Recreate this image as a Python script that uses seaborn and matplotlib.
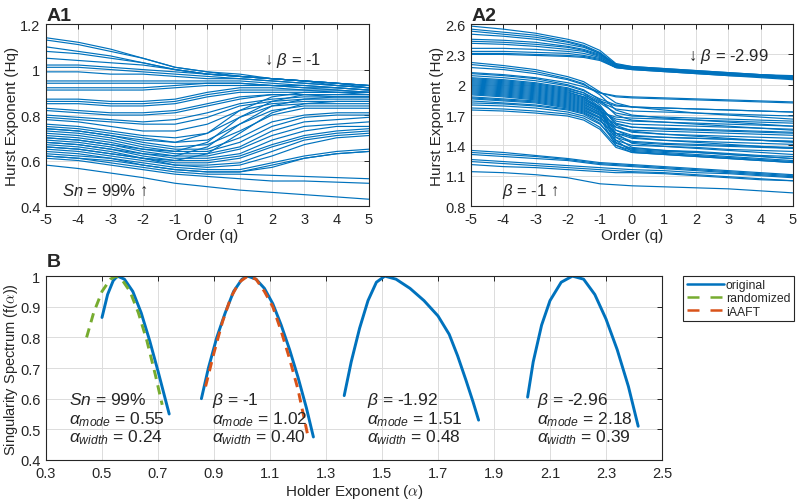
import matplotlib
matplotlib.use("Agg")
import matplotlib.pyplot as plt
from matplotlib.lines import Line2D
from matplotlib.ticker import FuncFormatter
import pandas as pd
import seaborn as sns

# ---- data ----
q_a1 = [-5, -4, -3, -2, -1, 0, 1, 2, 3, 4, 5]
a1_upper = [
    [1.14, 1.12, 1.09, 1.05, 1.01, 0.99, 0.97, 0.96, 0.95, 0.94, 0.93],
    [1.13, 1.11, 1.08, 1.05, 1.01, 0.99, 0.98, 0.96, 0.95, 0.94, 0.93],
    [1.10, 1.08, 1.06, 1.03, 1.00, 0.98, 0.97, 0.96, 0.95, 0.94, 0.93],
    [1.08, 1.07, 1.05, 1.03, 1.00, 0.98, 0.97, 0.96, 0.95, 0.94, 0.93],
    [1.05, 1.04, 1.03, 1.02, 1.00, 0.98, 0.97, 0.96, 0.95, 0.94, 0.92],
    [1.02, 1.02, 1.01, 1.00, 0.99, 0.98, 0.97, 0.96, 0.95, 0.93, 0.92],
    [1.01, 1.01, 1.00, 0.99, 0.98, 0.97, 0.96, 0.95, 0.94, 0.93, 0.92],
    [0.99, 0.99, 0.98, 0.98, 0.97, 0.96, 0.96, 0.95, 0.94, 0.93, 0.92],
    [0.95, 0.95, 0.95, 0.95, 0.95, 0.95, 0.95, 0.94, 0.93, 0.92, 0.91],
    [0.94, 0.94, 0.94, 0.94, 0.94, 0.94, 0.94, 0.93, 0.93, 0.92, 0.91],
    [0.92, 0.92, 0.92, 0.92, 0.93, 0.94, 0.94, 0.93, 0.92, 0.92, 0.91],
    [0.91, 0.91, 0.91, 0.91, 0.92, 0.93, 0.93, 0.93, 0.92, 0.91, 0.90],
]
a1_middle = [
    [0.87, 0.87, 0.86, 0.86, 0.87, 0.90, 0.92, 0.92, 0.91, 0.91, 0.90],
    [0.86, 0.86, 0.85, 0.85, 0.86, 0.89, 0.91, 0.91, 0.91, 0.90, 0.90],
    [0.85, 0.85, 0.84, 0.84, 0.85, 0.88, 0.90, 0.90, 0.90, 0.90, 0.89],
    [0.83, 0.82, 0.81, 0.81, 0.82, 0.85, 0.88, 0.89, 0.89, 0.89, 0.89],
    [0.82, 0.81, 0.80, 0.80, 0.81, 0.84, 0.87, 0.89, 0.89, 0.88, 0.88],
    [0.80, 0.79, 0.78, 0.77, 0.78, 0.81, 0.85, 0.87, 0.88, 0.88, 0.88],
    [0.79, 0.78, 0.77, 0.76, 0.76, 0.79, 0.84, 0.86, 0.87, 0.87, 0.87],
    [0.78, 0.77, 0.75, 0.73, 0.73, 0.76, 0.82, 0.85, 0.86, 0.86, 0.86],
    [0.76, 0.75, 0.73, 0.71, 0.70, 0.72, 0.79, 0.84, 0.85, 0.85, 0.85],
    [0.75, 0.74, 0.72, 0.70, 0.68, 0.69, 0.76, 0.82, 0.84, 0.84, 0.84],
    [0.74, 0.73, 0.71, 0.68, 0.66, 0.67, 0.73, 0.80, 0.83, 0.83, 0.83],
    [0.74, 0.73, 0.71, 0.69, 0.68, 0.72, 0.82, 0.88, 0.90, 0.90, 0.90],
    [0.73, 0.72, 0.70, 0.67, 0.65, 0.65, 0.70, 0.77, 0.80, 0.81, 0.81],
    [0.72, 0.71, 0.69, 0.66, 0.64, 0.64, 0.68, 0.75, 0.79, 0.80, 0.80],
    [0.71, 0.70, 0.68, 0.65, 0.63, 0.63, 0.66, 0.73, 0.77, 0.78, 0.79],
    [0.70, 0.69, 0.67, 0.65, 0.64, 0.68, 0.79, 0.86, 0.89, 0.89, 0.89],
    [0.70, 0.69, 0.67, 0.64, 0.62, 0.62, 0.65, 0.71, 0.75, 0.76, 0.77],
    [0.69, 0.68, 0.66, 0.63, 0.61, 0.61, 0.63, 0.69, 0.73, 0.75, 0.75],
    [0.68, 0.67, 0.65, 0.63, 0.62, 0.66, 0.76, 0.84, 0.87, 0.88, 0.88],
    [0.68, 0.67, 0.65, 0.62, 0.60, 0.60, 0.62, 0.67, 0.71, 0.73, 0.74],
    [0.67, 0.66, 0.64, 0.61, 0.59, 0.59, 0.61, 0.66, 0.70, 0.72, 0.73],
    [0.66, 0.65, 0.63, 0.61, 0.60, 0.63, 0.72, 0.81, 0.85, 0.86, 0.86],
    [0.66, 0.65, 0.63, 0.61, 0.58, 0.58, 0.59, 0.64, 0.69, 0.71, 0.72],
    [0.65, 0.64, 0.62, 0.60, 0.58, 0.57, 0.58, 0.62, 0.67, 0.70, 0.71],
]
a1_lower = [
    [0.64, 0.63, 0.61, 0.59, 0.57, 0.56, 0.56, 0.59, 0.62, 0.64, 0.65],
    [0.63, 0.62, 0.61, 0.58, 0.56, 0.55, 0.55, 0.58, 0.61, 0.63, 0.64],
    [0.62, 0.61, 0.60, 0.58, 0.56, 0.55, 0.55, 0.57, 0.61, 0.63, 0.64],
    [0.62, 0.61, 0.59, 0.57, 0.55, 0.54, 0.54, 0.535, 0.53, 0.525, 0.52],
    [0.61, 0.60, 0.58, 0.56, 0.54, 0.53, 0.52, 0.51, 0.51, 0.505, 0.50],
    [0.58, 0.565, 0.545, 0.525, 0.50, 0.485, 0.47, 0.46, 0.45, 0.44, 0.43],
]

q_a2 = [-5, -4, -3, -2, -1.5, -1, -0.5, 0, 1, 2, 3, 4, 5]
a2_upper = [
    [2.58, 2.55, 2.51, 2.45, 2.41, 2.34, 2.21, 2.18, 2.16, 2.14, 2.12, 2.10, 2.09],
    [2.55, 2.52, 2.49, 2.43, 2.39, 2.32, 2.20, 2.18, 2.16, 2.14, 2.12, 2.10, 2.08],
    [2.53, 2.50, 2.47, 2.42, 2.38, 2.31, 2.20, 2.17, 2.15, 2.13, 2.11, 2.10, 2.08],
    [2.50, 2.48, 2.45, 2.40, 2.37, 2.31, 2.19, 2.17, 2.15, 2.13, 2.11, 2.09, 2.08],
    [2.45, 2.44, 2.42, 2.38, 2.35, 2.30, 2.19, 2.17, 2.15, 2.13, 2.11, 2.09, 2.07],
    [2.43, 2.42, 2.40, 2.37, 2.34, 2.29, 2.19, 2.17, 2.15, 2.13, 2.11, 2.09, 2.07],
    [2.41, 2.40, 2.38, 2.35, 2.33, 2.28, 2.18, 2.16, 2.14, 2.12, 2.10, 2.08, 2.07],
    [2.36, 2.36, 2.35, 2.33, 2.31, 2.27, 2.18, 2.16, 2.14, 2.12, 2.10, 2.08, 2.06],
    [2.33, 2.33, 2.32, 2.31, 2.29, 2.26, 2.17, 2.16, 2.14, 2.12, 2.10, 2.08, 2.06],
    [2.31, 2.31, 2.30, 2.29, 2.28, 2.25, 2.17, 2.15, 2.13, 2.11, 2.09, 2.08, 2.06],
    [2.30, 2.30, 2.29, 2.28, 2.27, 2.24, 2.17, 2.15, 2.13, 2.11, 2.09, 2.07, 2.05],
]
a2_middle = [
    [2.22, 2.19, 2.15, 2.08, 2.03, 1.93, 1.82, 1.78, 1.75, 1.72, 1.70, 1.68, 1.66],
    [2.20, 2.17, 2.13, 2.06, 2.01, 1.90, 1.75, 1.70, 1.67, 1.65, 1.63, 1.61, 1.59],
    [2.17, 2.15, 2.11, 2.05, 2.00, 1.92, 1.88, 1.87, 1.86, 1.85, 1.84, 1.83, 1.82],
    [2.12, 2.10, 2.07, 2.02, 1.98, 1.92, 1.89, 1.88, 1.87, 1.86, 1.85, 1.84, 1.83],
    [2.11, 2.09, 2.06, 2.00, 1.95, 1.85, 1.70, 1.65, 1.63, 1.61, 1.59, 1.57, 1.55],
    [2.09, 2.07, 2.04, 1.99, 1.94, 1.86, 1.80, 1.78, 1.77, 1.76, 1.75, 1.74, 1.73],
    [2.07, 2.05, 2.02, 1.97, 1.92, 1.80, 1.60, 1.54, 1.51, 1.49, 1.47, 1.45, 1.43],
    [2.06, 2.04, 2.01, 1.96, 1.92, 1.84, 1.79, 1.78, 1.77, 1.76, 1.75, 1.74, 1.73],
    [2.05, 2.03, 2.00, 1.95, 1.90, 1.78, 1.55, 1.48, 1.45, 1.43, 1.41, 1.39, 1.37],
    [2.04, 2.02, 1.99, 1.94, 1.90, 1.83, 1.76, 1.74, 1.73, 1.72, 1.71, 1.70, 1.69],
    [2.03, 2.01, 1.98, 1.93, 1.88, 1.76, 1.52, 1.42, 1.39, 1.37, 1.35, 1.33, 1.31],
    [2.02, 2.00, 1.97, 1.92, 1.88, 1.82, 1.72, 1.69, 1.68, 1.67, 1.66, 1.65, 1.64],
    [2.01, 1.99, 1.96, 1.91, 1.87, 1.78, 1.62, 1.58, 1.56, 1.55, 1.54, 1.53, 1.52],
    [2.00, 1.98, 1.95, 1.90, 1.86, 1.76, 1.48, 1.38, 1.35, 1.33, 1.31, 1.29, 1.27],
    [1.99, 1.97, 1.94, 1.89, 1.85, 1.77, 1.64, 1.61, 1.60, 1.59, 1.58, 1.57, 1.56],
    [1.98, 1.96, 1.93, 1.88, 1.84, 1.75, 1.45, 1.34, 1.32, 1.30, 1.28, 1.26, 1.24],
    [1.97, 1.95, 1.92, 1.87, 1.83, 1.75, 1.58, 1.53, 1.51, 1.50, 1.49, 1.48, 1.47],
    [1.96, 1.94, 1.91, 1.86, 1.82, 1.74, 1.66, 1.64, 1.63, 1.62, 1.61, 1.60, 1.59],
    [1.95, 1.93, 1.90, 1.85, 1.81, 1.72, 1.50, 1.44, 1.42, 1.41, 1.40, 1.39, 1.38],
    [1.94, 1.92, 1.89, 1.84, 1.80, 1.73, 1.68, 1.67, 1.66, 1.65, 1.64, 1.63, 1.62],
    [1.93, 1.91, 1.88, 1.83, 1.79, 1.71, 1.55, 1.50, 1.48, 1.47, 1.46, 1.45, 1.44],
    [1.92, 1.90, 1.87, 1.82, 1.78, 1.70, 1.43, 1.36, 1.34, 1.33, 1.31, 1.29, 1.27],
    [1.91, 1.89, 1.86, 1.81, 1.77, 1.70, 1.61, 1.58, 1.57, 1.56, 1.55, 1.54, 1.53],
    [1.90, 1.88, 1.85, 1.80, 1.76, 1.68, 1.52, 1.47, 1.45, 1.44, 1.43, 1.42, 1.41],
    [1.88, 1.86, 1.84, 1.79, 1.75, 1.67, 1.40, 1.33, 1.31, 1.29, 1.27, 1.25, 1.23],
    [1.87, 1.85, 1.83, 1.78, 1.74, 1.67, 1.58, 1.55, 1.54, 1.53, 1.52, 1.51, 1.50],
    [1.86, 1.84, 1.82, 1.77, 1.73, 1.65, 1.48, 1.43, 1.41, 1.40, 1.39, 1.38, 1.37],
    [1.84, 1.82, 1.80, 1.76, 1.72, 1.64, 1.52, 1.49, 1.48, 1.47, 1.46, 1.45, 1.44],
    [1.82, 1.81, 1.79, 1.75, 1.71, 1.62, 1.42, 1.37, 1.35, 1.34, 1.32, 1.30, 1.29],
    [1.80, 1.79, 1.77, 1.73, 1.69, 1.61, 1.45, 1.40, 1.39, 1.38, 1.36, 1.35, 1.34],
    [1.77, 1.76, 1.74, 1.71, 1.67, 1.58, 1.40, 1.35, 1.33, 1.31, 1.29, 1.27, 1.25],
    [1.75, 1.74, 1.72, 1.69, 1.65, 1.56, 1.38, 1.33, 1.31, 1.29, 1.27, 1.25, 1.23],
]
a2_lower = [
    [1.35, 1.33, 1.30, 1.27, 1.25, 1.23, 1.22, 1.21, 1.19, 1.17, 1.15, 1.13, 1.11],
    [1.33, 1.31, 1.29, 1.26, 1.24, 1.22, 1.21, 1.20, 1.18, 1.16, 1.14, 1.12, 1.10],
    [1.31, 1.29, 1.27, 1.25, 1.23, 1.21, 1.20, 1.19, 1.17, 1.15, 1.13, 1.11, 1.09],
    [1.26, 1.24, 1.22, 1.20, 1.19, 1.18, 1.17, 1.16, 1.15, 1.13, 1.12, 1.10, 1.08],
    [1.24, 1.22, 1.20, 1.18, 1.17, 1.16, 1.15, 1.14, 1.13, 1.11, 1.09, 1.07, 1.05],
    [1.21, 1.19, 1.18, 1.16, 1.15, 1.14, 1.13, 1.13, 1.12, 1.10, 1.08, 1.06, 1.05],
    [1.14, 1.13, 1.11, 1.08, 1.05, 1.02, 1.01, 1.00, 0.99, 0.98, 0.97, 0.95, 0.93],
]

# singularity spectra (alpha, f(alpha))
orig1_a = [0.50, 0.52, 0.54, 0.555, 0.58, 0.61, 0.64, 0.67, 0.70, 0.72, 0.74]
orig1_f = [0.865, 0.94, 0.985, 1.0, 0.99, 0.95, 0.88, 0.79, 0.69, 0.62, 0.55]
rand_a = [0.445, 0.47, 0.50, 0.53, 0.55, 0.57, 0.60, 0.63, 0.66, 0.69, 0.715]
rand_f = [0.80, 0.88, 0.95, 0.99, 1.0, 0.99, 0.95, 0.88, 0.79, 0.68, 0.58]
orig2_a = [0.855, 0.88, 0.91, 0.94, 0.97, 1.00, 1.02, 1.05, 1.08, 1.11, 1.14, 1.17, 1.20, 1.23, 1.255]
orig2_f = [0.60, 0.70, 0.80, 0.88, 0.95, 0.99, 1.0, 0.99, 0.96, 0.91, 0.84, 0.76, 0.67, 0.57, 0.475]
iaaft_a = [0.87, 0.90, 0.93, 0.96, 0.99, 1.02, 1.05, 1.08, 1.11, 1.14, 1.17, 1.20, 1.235]
iaaft_f = [0.64, 0.75, 0.85, 0.93, 0.98, 1.0, 0.99, 0.95, 0.90, 0.82, 0.73, 0.63, 0.48]
orig3_a = [1.365, 1.39, 1.42, 1.45, 1.48, 1.51, 1.55, 1.60, 1.65, 1.70, 1.74, 1.77, 1.80, 1.825, 1.845]
orig3_f = [0.61, 0.72, 0.83, 0.92, 0.98, 1.0, 0.99, 0.96, 0.92, 0.87, 0.81, 0.74, 0.66, 0.59, 0.53]
orig4_a = [2.02, 2.04, 2.07, 2.10, 2.14, 2.18, 2.22, 2.26, 2.30, 2.34, 2.38, 2.415]
orig4_f = [0.605, 0.72, 0.84, 0.92, 0.98, 1.0, 0.99, 0.94, 0.86, 0.76, 0.64, 0.51]

b_labels = [
    (r"$Sn$ = 99%", 0.55, 0.24, 0.382),
    (r"$\beta$ = -1", 1.02, 0.40, 0.893),
    (r"$\beta$ = -1.92", 1.51, 0.48, 1.446),
    (r"$\beta$ = -2.96", 2.18, 0.39, 2.054),
]

BLUE = "#0072BD"
GREEN = "#77AC30"
RED = "#D95319"
DARK = "#262626"

sns.set_style("white")
plt.rcParams["font.family"] = ["Liberation Sans", "DejaVu Sans"]
plt.rcParams["axes.unicode_minus"] = False
plt.rcParams["mathtext.fontset"] = "custom"
plt.rcParams["mathtext.rm"] = "Liberation Sans"
plt.rcParams["mathtext.it"] = "Liberation Sans:italic"


def to_frame(q, curves):
    rows = [(i, x, h) for i, c in enumerate(curves) for x, h in zip(q, c)]
    return pd.DataFrame(rows, columns=["curve", "q", "H"])


def style_axes(ax):
    ax.grid(True, color="#dcdcdc", lw=0.7)
    ax.set_axisbelow(True)
    for s in ax.spines.values():
        s.set_color(DARK)
        s.set_linewidth(0.8)
    ax.tick_params(direction="in", length=3.5, width=0.7, top=True, right=True,
                   labelsize=10.5, colors=DARK, pad=4)
    ax.yaxis.set_major_formatter(FuncFormatter(lambda v, p: f"{v:g}"))
    ax.xaxis.set_major_formatter(FuncFormatter(lambda v, p: f"{v:g}"))


fig = plt.figure(figsize=(8, 5.02), dpi=100)
ax1 = fig.add_axes([0.0575, 0.5876, 0.4035, 0.3624])
ax2 = fig.add_axes([0.589, 0.5876, 0.402, 0.3624])
axb = fig.add_axes([0.0575, 0.0817, 0.77, 0.3663])

# panel A1
df1 = to_frame(q_a1, a1_upper + a1_middle + a1_lower)
sns.lineplot(data=df1, x="q", y="H", units="curve", estimator=None,
             color=BLUE, lw=0.85, ax=ax1, legend=False)
ax1.set_xlim(-5, 5)
ax1.set_ylim(0.4, 1.2)
ax1.set_xticks(range(-5, 6))
ax1.set_yticks([0.4, 0.6, 0.8, 1.0, 1.2])
ax1.text(1.75, 1.045, r"↓ $\beta$ = -1", fontsize=12, va="center", color=DARK)
ax1.text(-4.5, 0.468, r"$Sn$ = 99% ↑", fontsize=12, va="center", color=DARK)

# panel A2
df2 = to_frame(q_a2, a2_upper + a2_middle + a2_lower)
sns.lineplot(data=df2, x="q", y="H", units="curve", estimator=None,
             color=BLUE, lw=0.85, ax=ax2, legend=False)
ax2.set_xlim(-5, 5)
ax2.set_ylim(0.8, 2.6)
ax2.set_xticks(range(-5, 6))
ax2.set_yticks([0.8, 1.1, 1.4, 1.7, 2.0, 2.3, 2.6])
ax2.text(1.75, 2.29, r"↓ $\beta$ = -2.99", fontsize=12, va="center", color=DARK)
ax2.text(-4.05, 0.95, r"$\beta$ = -1 ↑", fontsize=12, va="center", color=DARK)

for ax in (ax1, ax2):
    style_axes(ax)
    ax.set_xlabel("Order (q)", fontsize=11, color=DARK, labelpad=2)
    ax.set_ylabel("Hurst Exponent (Hq)", fontsize=11, color=DARK, labelpad=1)

# panel B
dash = (0, (3.2, 2.2))
for a, f in [(orig1_a, orig1_f), (orig2_a, orig2_f), (orig3_a, orig3_f), (orig4_a, orig4_f)]:
    sns.lineplot(x=a, y=f, color=BLUE, lw=2.1, ax=axb, sort=False, estimator=None)
sns.lineplot(x=rand_a, y=rand_f, color=GREEN, lw=2.1, ax=axb, sort=False,
             estimator=None, linestyle=dash)
sns.lineplot(x=iaaft_a, y=iaaft_f, color=RED, lw=2.1, ax=axb, sort=False,
             estimator=None, linestyle=dash)
axb.set_xlim(0.3, 2.5)
axb.set_ylim(0.4, 1.0)
axb.set_xticks([0.3, 0.5, 0.7, 0.9, 1.1, 1.3, 1.5, 1.7, 1.9, 2.1, 2.3, 2.5])
axb.set_yticks([0.4, 0.5, 0.6, 0.7, 0.8, 0.9, 1.0])
style_axes(axb)
axb.set_xlabel(r"Holder Exponent ($\alpha$)", fontsize=11, color=DARK, labelpad=2,
               math_fontfamily="cm")
axb.set_ylabel(r"Singularity Spectrum (f($\alpha$))", fontsize=10.5, color=DARK,
               labelpad=0, math_fontfamily="cm")

for head, mode, width, x in b_labels:
    axb.text(x, 0.598, head, fontsize=12.5, va="center", color=DARK)
    axb.text(x, 0.534, r"$\alpha_{mode}$" + f" = {mode:.2f}", fontsize=12.5,
             va="center", color=DARK)
    axb.text(x, 0.475, r"$\alpha_{width}$" + f" = {width:.2f}", fontsize=12.5,
             va="center", color=DARK)

handles = [
    Line2D([], [], color=BLUE, lw=1.8),
    Line2D([], [], color=GREEN, lw=1.8, linestyle=(0, (4.8, 4.4))),
    Line2D([], [], color=RED, lw=1.8, linestyle=(0, (4.8, 4.4))),
]
leg = fig.legend(handles, ["original", "randomized", "iAAFT"],
                 loc="upper left", bbox_to_anchor=(0.854, 0.449),
                 frameon=True, fancybox=False, framealpha=1, edgecolor=DARK,
                 fontsize=8.8, handlelength=3.0, handletextpad=0.2,
                 borderpad=0.3, labelspacing=0.1, borderaxespad=0)
leg.get_frame().set_linewidth(0.8)

# panel letters
fig.text(0.058, 0.968, "A1", fontsize=14, fontweight="bold", va="center", color=DARK)
fig.text(0.589, 0.968, "A2", fontsize=14, fontweight="bold", va="center", color=DARK)
fig.text(0.058, 0.478, "B", fontsize=14, fontweight="bold", va="center", color=DARK)

fig.savefig("out.png", dpi=100)
